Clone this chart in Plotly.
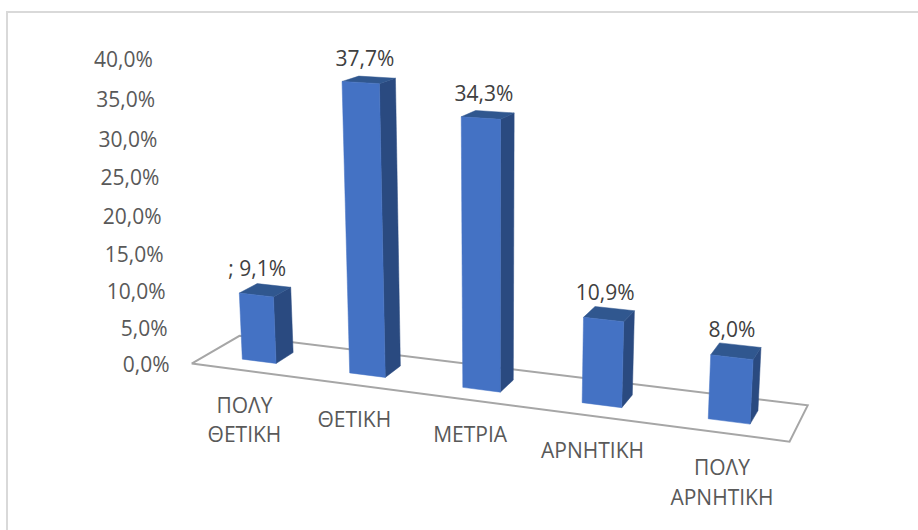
import numpy as np
import plotly.graph_objects as go

# ---- data ----
categories = ["ΠΟΛΥ<br>ΘΕΤΙΚΗ", "ΘΕΤΙΚΗ", "ΜΕΤΡΙΑ", "ΑΡΝΗΤΙΚΗ", "ΠΟΛΥ<br>ΑΡΝΗΤΙΚΗ"]
values = [9.1, 37.7, 34.3, 10.9, 8.0]
label_prefix = ["; ", "", "", "", ""]
axis_ticks = [0, 5, 10, 15, 20, 25, 30, 35, 40]

# ---- 3-D scale: (slot, depth, value) -> screen, a perspective projection ----
PROJ = np.array([
    [99.359, 61.3201, -0.645983, 191.651],
    [4.3141, -8.8558, -7.70611, 363.558],
    [-0.0256062, 0.0562995, -0.00130471, 1.0],
])
GAP, BAR_W, D0, D1 = 0.34, 0.32, 0.31, 0.69
W, H = 918, 530


def proj(u, d, v):
    x, y, w = PROJ @ np.array([u, d, v, 1.0])
    return x / w, y / w


def poly(corners, fill, line=None, lw=0):
    pts = [proj(*c) for c in corners] + [proj(*corners[0])]
    return go.Scatter(
        x=[p[0] for p in pts], y=[p[1] for p in pts], mode="lines",
        fill="toself", fillcolor=fill,
        line=dict(color=line or fill, width=lw if line else 0.5),
        hoverinfo="skip", showlegend=False,
    )


FONT = "Open Sans"
fig = go.Figure()

# chart frame (left and top edges only are visible in the crop)
frame = go.Scatter(x=[7, 7, W], y=[H, 12, 12], mode="lines",
                   line=dict(color="#D9D9D9", width=2), hoverinfo="skip", showlegend=False)
fig.add_trace(frame)

# floor
fig.add_trace(poly([(0, 0, 0), (0, 1, 0), (5, 1, 0), (5, 0, 0)], "#FFFFFF", "#A6A6A6", 2))

# bars
for i, v in enumerate(values):
    l, r = i + GAP, i + GAP + BAR_W
    fig.add_trace(poly([(r, D0, 0), (r, D1, 0), (r, D1, v), (r, D0, v)], "#2A4A80"))
    fig.add_trace(poly([(l, D0, v), (l, D1, v), (r, D1, v), (r, D0, v)], "#30578F"))
    fig.add_trace(poly([(l, D0, 0), (r, D0, 0), (r, D0, v), (l, D0, v)], "#4472C4"))

# value-axis labels
tp = [proj(0, 0, t) for t in axis_ticks]
fig.add_trace(go.Scatter(
    x=[p[0] - 22 for p in tp], y=[p[1] + 3.5 for p in tp], mode="text",
    text=[f"{t:.1f}".replace(".", ",") + "%" for t in axis_ticks],
    textposition="middle left", textfont=dict(family=FONT, size=21, color="#595959"),
    hoverinfo="skip", showlegend=False))

# category labels: top-aligned, one text per line for the wider line spacing
cx, cy, ct = [], [], []
for i, c in enumerate(categories):
    px, py = proj(i + 0.5, 0, 0)
    for k, part in enumerate(c.split("<br>")):
        cx.append(px)
        cy.append(py + 37 + 29.5 * k)
        ct.append(part)
fig.add_trace(go.Scatter(
    x=cx, y=cy, mode="text", text=ct,
    textposition="middle center", textfont=dict(family=FONT, size=21, color="#595959"),
    hoverinfo="skip", showlegend=False))

# data labels
lp = [proj(i + GAP + BAR_W / 2, 0.5, v) for i, v in enumerate(values)]
fig.add_trace(go.Scatter(
    x=[p[0] - (4 + 2 * len(s)) for p, s in zip(lp, label_prefix)],
    y=[p[1] - 19 for p in lp], mode="text",
    text=[s + f"{v:.1f}".replace(".", ",") + "%" for s, v in zip(label_prefix, values)],
    textposition="middle center", textfont=dict(family=FONT, size=21, color="#404040"),
    hoverinfo="skip", showlegend=False))

fig.update_layout(
    width=W, height=H, margin=dict(l=0, r=0, t=0, b=0), autosize=False,
    paper_bgcolor="#FFFFFF", plot_bgcolor="#FFFFFF", showlegend=False,
    xaxis=dict(range=[0, W], visible=False, fixedrange=True),
    yaxis=dict(range=[H, 0], visible=False, fixedrange=True),
)
fig.write_html("out.html", post_script="document.body.style.margin='0';document.body.style.overflow='hidden';",
               config={"displayModeBar": False})
